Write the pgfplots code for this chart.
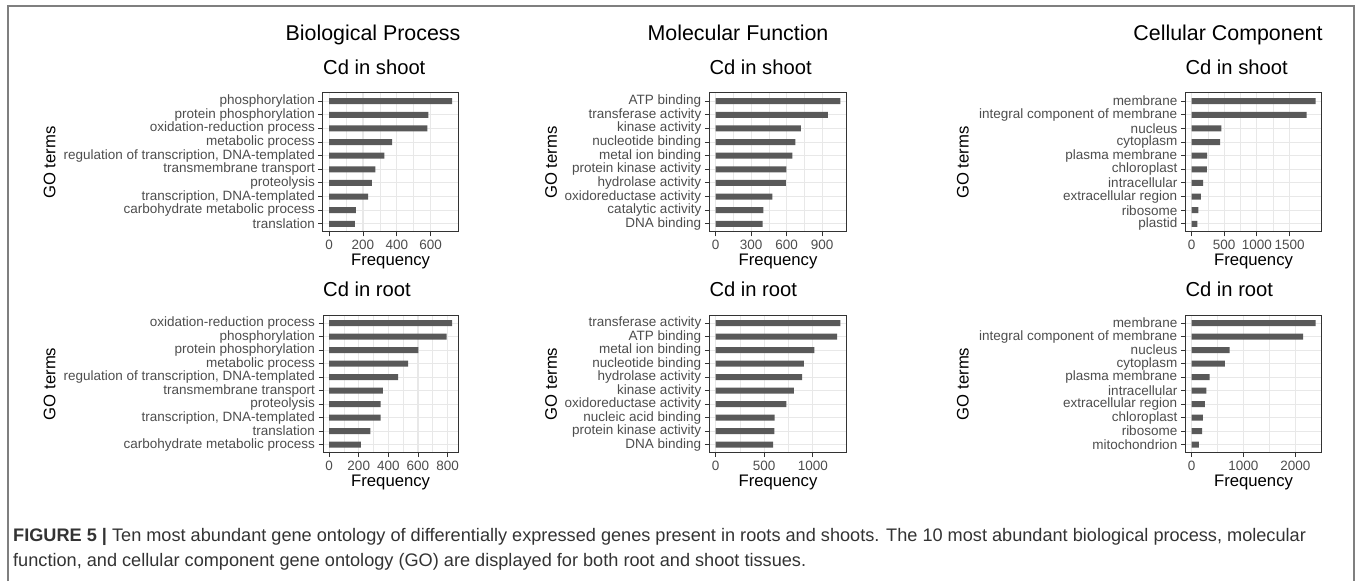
\documentclass[border=0pt]{standalone}
\usepackage{fontspec}
\setmainfont{Liberation Sans}
\usepackage{pgfplots}
\pgfplotsset{compat=1.18}
\definecolor{c20}{HTML}{333333}
\definecolor{c30}{HTML}{4D4D4D}
\definecolor{gridc}{HTML}{E8E8E8}
\definecolor{barc}{HTML}{595959}
\definecolor{framec}{HTML}{7F7F7F}
\newcommand\ticfont{\fontsize{13.5}{15}\selectfont}
\newcommand\labfont{\fontsize{16.7}{19}\selectfont}
\newcommand\titfont{\fontsize{20.2}{23}\selectfont}
\newcommand\bigtitfont{\fontsize{21.4}{24}\selectfont}
\newcommand\capfont{\fontsize{18.15}{24}\selectfont}
\pgfplotsset{
 goax/.style={
  scale only axis, anchor=south west,
  y dir=reverse, ymin=0.4, ymax=10.6, ytick={1,...,10},
  tick align=outside, xtick pos=lower, ytick pos=left,
  major tick length=4.5pt, minor tick length=0pt,
  tick style={color=c20, line width=0.9pt},
  axis line style={color=c20, line width=1pt},
  grid=both,
  major grid style={color=gridc, line width=1.1pt},
  minor grid style={color=gridc, line width=0.55pt},
  minor x tick num=1,
  ticklabel style={font=\ticfont, text=c30},
  /pgf/number format/assume math mode=true,
  /pgf/number format/1000 sep={},
  scaled x ticks=false,
  xlabel={Frequency}, ylabel={GO terms},
  xlabel style={at={(axis description cs:0.5,0)}, anchor=base, yshift=-34pt, font=\labfont},
  title style={at={(axis description cs:0,1)}, anchor=base west, yshift=12.5pt, font=\titfont, inner sep=0pt},
 },
 gobar/.style={xbar, fill=barc, draw=none, bar width=6pt, bar shift=0pt},
}
\begin{document}
\begin{tikzpicture}
\useasboundingbox (0,0) rectangle (1360pt,581pt);
\draw[framec, line width=1.5pt] (8pt,0pt) -- (8pt,575pt) -- (1354pt,575pt) -- (1354pt,0pt);
\node[anchor=base, font=\bigtitfont] at (373pt,540.3pt) {Biological Process};
\node[anchor=base, font=\bigtitfont] at (738pt,540.3pt) {Molecular Function};
\node[anchor=base, font=\bigtitfont] at (1228pt,540.3pt) {Cellular Component};

% ---- Row 1: Cd in shoot ----
\begin{axis}[goax, at={(323pt,349pt)}, width=135.3pt, height=139pt,
  title={Cd in shoot}, xmin=-36.35, xmax=763.35, xtick={0,200,400,600},
  ylabel style={at={(axis description cs:-2.02,0.5)}, anchor=center, font=\labfont},
  yticklabels={phosphorylation, protein phosphorylation, oxidation-reduction process, metabolic process, {regulation of transcription, DNA-templated}, transmembrane transport, proteolysis, {transcription, DNA-templated}, carbohydrate metabolic process, translation}]
\addplot[gobar] coordinates {(727,1) (587,2) (581,3) (372,4) (327,5) (273,6) (253,7) (230,8) (158,9) (152,10)};
\end{axis}

\begin{axis}[goax, at={(709.3pt,349pt)}, width=137.4pt, height=139pt,
  title={Cd in shoot}, xmin=-52.75, xmax=1107.75, xtick={0,300,600,900},
  ylabel style={at={(axis description cs:-1.152,0.5)}, anchor=center, font=\labfont},
  yticklabels={ATP binding, transferase activity, kinase activity, nucleotide binding, metal ion binding, protein kinase activity, hydrolase activity, oxidoreductase activity, catalytic activity, DNA binding}]
\addplot[gobar] coordinates {(1055,1) (948,2) (720,3) (674,4) (649,5) (598,6) (593,7) (480,8) (403,9) (398,10)};
\end{axis}

\begin{axis}[goax, at={(1185.3pt,349pt)}, width=136.4pt, height=139pt,
  title={Cd in shoot}, xmin=-94.8, xmax=1990.8, xtick={0,500,1000,1500},
  ylabel style={at={(axis description cs:-1.63,0.5)}, anchor=center, font=\labfont},
  yticklabels={membrane, integral component of membrane, nucleus, cytoplasm, plasma membrane, chloroplast, intracellular, extracellular region, ribosome, plastid}]
\addplot[gobar] coordinates {(1896,1) (1759,2) (456,3) (436,4) (238,5) (233,6) (177,7) (142,8) (106,9) (91,10)};
\end{axis}

% ---- Row 2: Cd in root ----
\begin{axis}[goax, at={(323pt,128.3pt)}, width=135.3pt, height=137.7pt,
  title={Cd in root}, xmin=-41.55, xmax=872.55, xtick={0,200,400,600,800},
  ylabel style={at={(axis description cs:-2.02,0.5)}, anchor=center, font=\labfont},
  yticklabels={oxidation-reduction process, phosphorylation, protein phosphorylation, metabolic process, {regulation of transcription, DNA-templated}, transmembrane transport, proteolysis, {transcription, DNA-templated}, translation, carbohydrate metabolic process}]
\addplot[gobar] coordinates {(831,1) (793,2) (602,3) (533,4) (466,5) (363,6) (348,7) (348,8) (279,9) (214,10)};
\end{axis}

\begin{axis}[goax, at={(709.3pt,128.3pt)}, width=137.4pt, height=137.7pt,
  title={Cd in root}, xmin=-64.2, xmax=1348.2, xtick={0,500,1000},
  ylabel style={at={(axis description cs:-1.152,0.5)}, anchor=center, font=\labfont},
  yticklabels={transferase activity, ATP binding, metal ion binding, nucleotide binding, hydrolase activity, kinase activity, oxidoreductase activity, nucleic acid binding, protein kinase activity, DNA binding}]
\addplot[gobar] coordinates {(1284,1) (1250,2) (1016,3) (907,4) (889,5) (804,6) (728,7) (608,8) (604,9) (591,10)};
\end{axis}

\begin{axis}[goax, at={(1185.3pt,128.3pt)}, width=136.4pt, height=137.7pt,
  title={Cd in root}, xmin=-119.5, xmax=2509.5, xtick={0,1000,2000},
  ylabel style={at={(axis description cs:-1.63,0.5)}, anchor=center, font=\labfont},
  yticklabels={membrane, integral component of membrane, nucleus, cytoplasm, plasma membrane, intracellular, extracellular region, chloroplast, ribosome, mitochondrion}]
\addplot[gobar] coordinates {(2390,1) (2153,2) (735,3) (645,4) (351,5) (288,6) (256,7) (217,8) (204,9) (141,10)};
\end{axis}

% ---- caption ----
\node[anchor=base west, inner sep=0pt, font=\capfont, text=c20] at (13pt,39pt)
 {\textbf{FIGURE 5 |} Ten most abundant gene ontology of differentially expressed genes present in roots and shoots. The 10 most abundant biological process, molecular};
\node[anchor=base west, inner sep=0pt, font=\capfont, text=c20] at (13pt,14pt)
 {function, and cellular component gene ontology (GO) are displayed for both root and shoot tissues.};
\end{tikzpicture}
\end{document}
